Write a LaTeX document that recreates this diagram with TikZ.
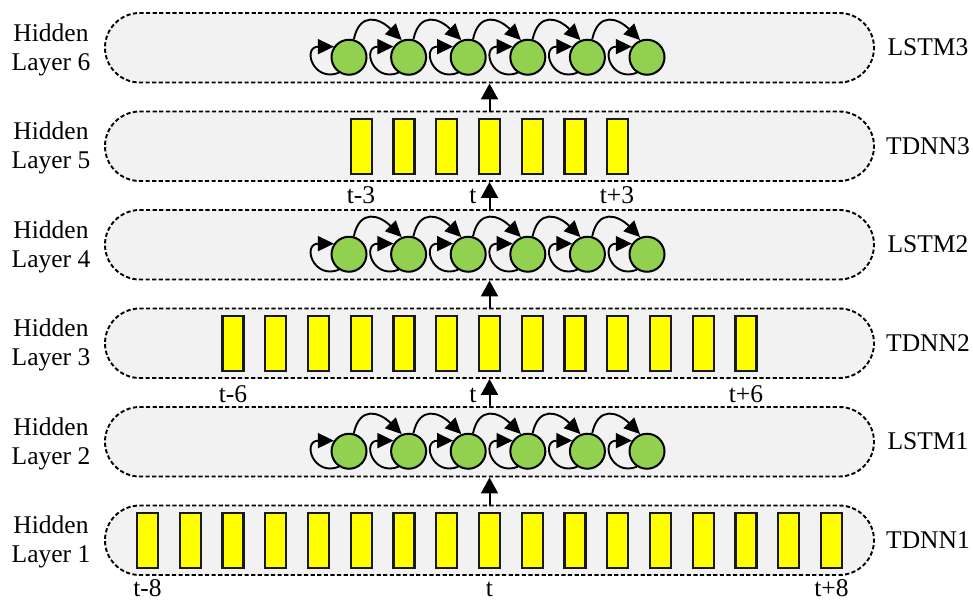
\documentclass[tikz,border=0pt]{standalone}
\usepackage{fontspec}
\setmainfont{Liberation Serif}
\usetikzlibrary{arrows.meta,shapes.misc}
\definecolor{bandfill}{HTML}{F2F2F2}
\definecolor{cellyellow}{HTML}{FFFF00}
\definecolor{cellgreen}{HTML}{92D050}
\begin{document}
\begin{tikzpicture}[x=1pt,y=-1pt,
  font=\fontsize{25.5}{29}\selectfont,
  band/.style={rounded rectangle, draw=black, fill=bandfill, line width=1.9pt,
    dash pattern=on 4.2pt off 2.4pt, minimum width=769pt, minimum height=69.5pt, inner sep=0pt},
  frame/.style={draw=black!90, fill=cellyellow, line width=2.2pt,
    minimum width=21pt, minimum height=55pt, inner sep=0pt},
  cell/.style={circle, draw=black, fill=cellgreen, line width=2pt,
    minimum size=35pt, inner sep=0pt},
  flow/.style={line width=2pt, -{Triangle[length=16pt,width=17pt]}},
  rec/.style={line width=1.9pt, -{Triangle[length=16pt,width=15pt]}},
  tick/.style={anchor=base, inner sep=0pt}]
\useasboundingbox (0,0) rectangle (973,601);

% layer bands
\node[band] (L1) at (489.5,540.25) {};
\node[band] (L2) at (489.5,441.75) {};
\node[band] (L3) at (489.5,343.25) {};
\node[band] (L4) at (489.5,244.75) {};
\node[band] (L5) at (489.5,146.25) {};
\node[band] (L6) at (489.5,47.75) {};

% TDNN frames
\foreach \k in {-8,...,8}
  \node[frame] (a\k) at ({489.5+42.75*\k},540.25) {};
\foreach \k in {-6,...,6}
  \node[frame] (b\k) at ({489.5+42.75*\k},343.25) {};
\foreach \k in {-3,...,3}
  \node[frame] (c\k) at ({489.5+42.75*\k},146.25) {};

% LSTM cells with self loops and recurrent links
\foreach \L/\cy in {P/451.25, Q/254.25, R/57.25} {
  \foreach \i in {0,...,5}
    \node[cell] (\L\i) at ({349+59.6*\i},\cy) {};
  \foreach \i in {0,...,5}
    \draw[rec] (\L\i.237) .. controls +(-26,10) and +(-32,0) .. (\L\i.145);
  \foreach \i [evaluate=\i as \j using int(\i+1)] in {0,...,4}
    \draw[rec] (\L\i.75) .. controls +(6,-28) and +(-22,-22) .. (\L\j.112);
}

% flow between layers
\draw[flow] (L1.north) -- (L2.south);
\draw[flow] (L2.north) -- (L3.south);
\draw[flow] (L3.north) -- (L4.south);
\draw[flow] (L4.north) -- (L5.south);
\draw[flow] (L5.north) -- (L6.south);

% time labels
\node[tick] (ta1) at (147.5,596) {t-8};
\node[tick] (ta2) at (489.5,596) {t};
\node[tick] (ta3) at (831.5,596) {t+8};
\node[tick] (tb1) at (233,402) {t-6};
\node[tick] (tb2) at (473,402) {t};
\node[tick] (tb3) at (746,402) {t+6};
\node[tick] (tc1) at (361,203.5) {t-3};
\node[tick] (tc2) at (473,203.5) {t};
\node[tick] (tc3) at (617,203.5) {t+3};

% layer names
\node[align=center] (h1) at (51,542) {Hidden\\Layer 1};
\node[align=center] (h2) at (51,443.5) {Hidden\\Layer 2};
\node[align=center] (h3) at (51,345) {Hidden\\Layer 3};
\node[align=center] (h4) at (51,246.5) {Hidden\\Layer 4};
\node[align=center] (h5) at (51,148) {Hidden\\Layer 5};
\node[align=center] (h6) at (51,49.5) {Hidden\\Layer 6};

\node (n1) at (928,540) {TDNN1};
\node (n2) at (928,441.5) {LSTM1};
\node (n3) at (928,343) {TDNN2};
\node (n4) at (928,244.5) {LSTM2};
\node (n5) at (928,146) {TDNN3};
\node (n6) at (928,47.5) {LSTM3};
\end{tikzpicture}
\end{document}
